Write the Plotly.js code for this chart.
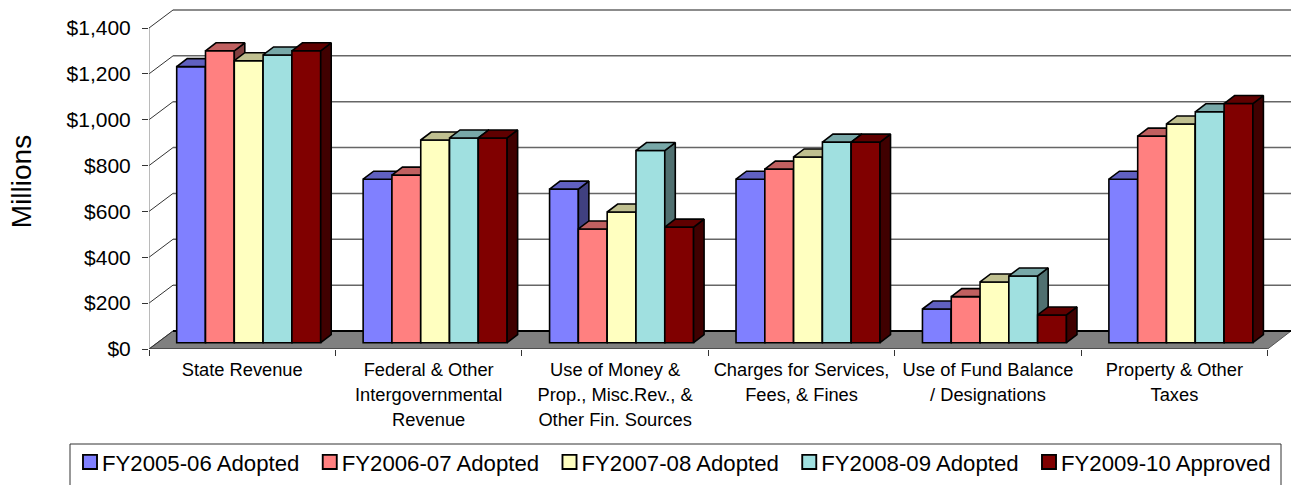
<!DOCTYPE html>
<html>
<head>
<meta charset="utf-8">
<script src="https://cdn.plot.ly/plotly-3.0.1.min.js"></script>
<style>html,body{margin:0;padding:0;background:#fff;overflow:hidden}</style>
</head>
<body>
<div id="chart" style="width:1291px;height:485px"></div>
<script>
const categories = [
  ["State Revenue"],
  ["Federal & Other", "Intergovernmental", "Revenue"],
  ["Use of Money &", "Prop., Misc.Rev., &", "Other Fin. Sources"],
  ["Charges for Services,", "Fees, & Fines"],
  ["Use of Fund Balance", "/ Designations"],
  ["Property & Other", "Taxes"]
];
const yTicks = [0, 200, 400, 600, 800, 1000, 1200, 1400];
const fy0506 = [1204, 713, 670, 713, 147, 713];
const fy0607 = [1273, 731, 496, 757, 201, 901];
const fy0708 = [1230, 884, 570, 810, 265, 954];
const fy0809 = [1255, 893, 838, 875, 291, 1007];
const fy0910 = [1273, 893, 504, 875, 121, 1043];
const seriesNames = ["FY2005-06 Adopted", "FY2006-07 Adopted", "FY2007-08 Adopted", "FY2008-09 Adopted", "FY2009-10 Approved"];
const seriesValues = [fy0506, fy0607, fy0708, fy0809, fy0910];
const frontColors = ["#8080FF", "#FF8080", "#FFFFC0", "#A0E0E0", "#800000"];
const topColors = ["#6060C0", "#C06060", "#C0C090", "#78A8A8", "#600000"];
const sideColors = ["#404080", "#804040", "#808060", "#507070", "#400000"];

// Pixel-to-unit ratios of the pseudo-3D projection
const pxPerCat = 186.44, pxPerVal = 321 / 1400;
const plotW = 1142, plotH = 341;
const xMax = plotW / pxPerCat, yMax = plotH / pxPerVal;
const wallDX = 24 / pxPerCat, wallDY = 18 / pxPerVal;
const barDX = 10.5 / pxPerCat, barDY = 8 / pxPerVal;
const barW = 28.8 / pxPerCat, groupStart = 27.7 / pxPerCat;
const barBase = 6.3 / pxPerVal;
const FONT = '"Liberation Sans", Arial, sans-serif';

const traces = [];
const noHover = {hoverinfo: 'skip', showlegend: false, cliponaxis: false};

// floor
traces.push(Object.assign({
  type: 'scatter', mode: 'lines', fill: 'toself', fillcolor: '#808080',
  x: [0, wallDX, xMax, 6, 0], y: [0, wallDY, wallDY, 0, 0],
  line: {color: '#555', width: 1}
}, noHover));
// back wall grid lines and left wall diagonals
const gx = [], gy = [], dx = [], dy = [];
yTicks.forEach(v => {
  if (v > 0) { gx.push(wallDX, xMax, null); gy.push(v + wallDY, v + wallDY, null); }
  dx.push(0, wallDX, null); dy.push(v, v + wallDY, null);
});
traces.push(Object.assign({type: 'scatter', mode: 'lines', x: gx, y: gy, line: {color: '#666', width: 1.5}}, noHover));
traces.push(Object.assign({type: 'scatter', mode: 'lines', x: dx, y: dy, line: {color: '#333', width: 1}}, noHover));
// floor back edge
traces.push(Object.assign({type: 'scatter', mode: 'lines', x: [wallDX, xMax], y: [wallDY, wallDY], line: {color: '#000', width: 2}}, noHover));
// y axis line
traces.push(Object.assign({type: 'scatter', mode: 'lines', x: [0, 0], y: [0, 1400], line: {color: '#777', width: 1}}, noHover));
// x axis line
traces.push(Object.assign({type: 'scatter', mode: 'lines', x: [0, 6], y: [0, 0], line: {color: '#333', width: 1}}, noHover));
// invisible trace so the labelled axis has data
traces.push({type: 'scatter', mode: 'none', x: categories.map((c, i) => i + 0.5), y: categories.map(() => 0), hoverinfo: 'skip', showlegend: false});

seriesValues.forEach((vals, s) => {
  const sub = s + 2;
  const xr = 'x' + sub, yr = 'y' + sub;
  const centers = vals.map((v, i) => i + groupStart + barW * (s + 0.5));
  traces.push({
    type: 'bar', name: seriesNames[s], x: centers, y: vals, base: vals.map(() => barBase),
    width: barW, xaxis: xr, yaxis: yr,
    marker: {color: frontColors[s], line: {color: '#000', width: 1.6}},
    hoverinfo: 'skip', cliponaxis: false
  });
  const tx = [], ty = [], sx = [], sy = [];
  vals.forEach((v, i) => {
    const L = centers[i] - barW / 2, R = centers[i] + barW / 2, T = v + barBase, B = barBase;
    tx.push(L, L + barDX, R + barDX, R, L, null);
    ty.push(T, T + barDY, T + barDY, T, T, null);
    sx.push(R, R + barDX, R + barDX, R, R, null);
    sy.push(T, T + barDY, B + barDY, B, T, null);
  });
  traces.push(Object.assign({type: 'scatter', mode: 'lines', fill: 'toself', fillcolor: sideColors[s], x: sx, y: sy, xaxis: xr, yaxis: yr, line: {color: '#000', width: 1.6}}, noHover));
  traces.push(Object.assign({type: 'scatter', mode: 'lines', fill: 'toself', fillcolor: topColors[s], x: tx, y: ty, xaxis: xr, yaxis: yr, line: {color: '#000', width: 1.6}}, noHover));
});

const hiddenX = () => ({range: [0, xMax], visible: false, overlaying: 'x', fixedrange: true});
const hiddenY = () => ({range: [0, yMax], visible: false, overlaying: 'y', fixedrange: true});

const layout = {
  width: 1291, height: 485,
  margin: {l: 149, r: 0, t: 8, b: 136},
  paper_bgcolor: '#fff', plot_bgcolor: 'rgba(0,0,0,0)',
  font: {family: FONT, color: '#000'},
  showlegend: true,
  xaxis: {
    range: [0, xMax], showgrid: false, zeroline: false, showline: false, ticks: '',
    tickmode: 'array',
    tickvals: categories.map((c, i) => i + 0.5),
    ticktext: categories.map(lines => lines.map(l => '<span style="font-size:18.3px">' + l + '</span>').join('<br>')),
    tickfont: {size: 19.2, family: FONT, color: '#000'},
    tickangle: 0, ticklabelstandoff: 7, fixedrange: true
  },
  yaxis: {
    range: [0, yMax], showgrid: false, zeroline: false, showline: false,
    ticks: 'outside', ticklen: 6, tickwidth: 1, tickcolor: '#333',
    tickmode: 'array', tickvals: yTicks, ticktext: yTicks.map(v => '$' + v.toLocaleString('en-US')),
    tickfont: {size: 21, family: FONT, color: '#000'}, ticklabelstandoff: 7,
    title: {text: 'Millions', font: {size: 28, family: FONT, color: '#000'}, standoff: 26},
    fixedrange: true
  },
  legend: {
    orientation: 'h', xref: 'paper', yref: 'paper', x: (62 - 149) / plotW, xanchor: 'left',
    y: (349 - 441) / plotH, yanchor: 'top',
    font: {size: 22.2, family: FONT, color: '#000'},
    entrywidth: 194.75, entrywidthmode: 'pixels', traceorder: 'normal',
    bgcolor: 'rgba(0,0,0,0)', itemclick: false, itemdoubleclick: false
  },
  shapes: [{
    type: 'rect', xref: 'paper', yref: 'paper',
    x0: (70 - 149) / plotW, x1: (1281 - 149) / plotW,
    y0: (349 - 444) / plotH, y1: (349 - 495) / plotH,
    line: {color: '#333', width: 1}, fillcolor: 'rgba(0,0,0,0)'
  }]
};
for (let s = 0; s < seriesValues.length; s++) {
  layout['xaxis' + (s + 2)] = hiddenX();
  layout['yaxis' + (s + 2)] = hiddenY();
  layout['xaxis' + (s + 2)].anchor = 'y' + (s + 2);
  layout['yaxis' + (s + 2)].anchor = 'x' + (s + 2);
}
// boundary tick marks between categories
Object.assign(layout.xaxis2, {
  visible: true, showticklabels: false, showgrid: false, zeroline: false, showline: false,
  ticks: 'outside', ticklen: 6, tickwidth: 1, tickcolor: '#333',
  tickmode: 'array', tickvals: categories.map((c, i) => i).concat([categories.length])
});
Plotly.newPlot('chart', traces, layout, {displayModeBar: false, staticPlot: true}).then(gd => {
  // Legend swatches sit closer to their labels and slightly larger than the default
  gd.querySelectorAll('.legend .legendsymbols').forEach(g => {
    g.setAttribute('transform', 'translate(4.6,0) scale(1.17)');
  });
  // The longest legend label is wider than the fixed entry pitch: do not clip it
  const legendBox = gd.querySelector('.legend');
  if (legendBox) legendBox.querySelectorAll('[clip-path]').forEach(n => n.removeAttribute('clip-path'));
  // The axis title sits slightly below the centre of the plot area
  const t = gd.querySelector('.ytitle');
  if (t) t.setAttribute('transform', 'translate(0,3) ' + (t.getAttribute('transform') || ''));
});
</script>
</body>
</html>
